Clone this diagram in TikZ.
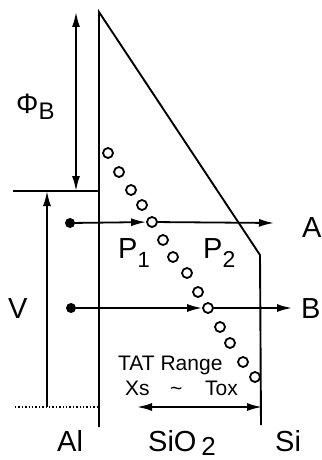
\documentclass[tikz,border=0pt]{standalone}
\usepackage{fontspec}
\setmainfont{Liberation Sans}
\usetikzlibrary{arrows.meta}
\begin{document}
\begin{tikzpicture}[x=1pt,y=-1pt,
  ln/.style={line width=1.9pt},
  arr/.style={line width=1.8pt,-{Latex[length=15pt,width=8pt]}},
  darr/.style={line width=1.8pt,{Latex[length=15pt,width=8pt]}-{Latex[length=15pt,width=8pt]}},
  trap/.style={circle,draw,line width=1.8pt,fill=white,minimum size=10pt,inner sep=0pt},
  dotn/.style={circle,fill=black,minimum size=10pt,inner sep=0pt},
  big/.style={inner sep=0pt,anchor=base west,font=\fontsize{29}{29}\selectfont},
  small/.style={inner sep=0pt,anchor=base west,font=\fontsize{21}{21}\selectfont}]
\useasboundingbox (0,0) rectangle (321,460);
% band structure
\coordinate (altop) at (99,12);
\coordinate (albot) at (99,427);
\coordinate (kink) at (260,255);
\coordinate (sibot) at (261,425);
\draw[ln] (albot) -- (altop) -- (kink) -- (sibot);
% Fermi level
\coordinate (fl) at (13,191);
\coordinate (fr) at (99,191);
\draw[ln] (fl) -- (fr);
% dotted level
\coordinate (dl) at (15,407);
\coordinate (dr) at (97,407);
\draw[line width=1.4pt,dotted] (dl) -- (dr);
% Phi_B arrow
\coordinate (pbt) at (76,12);
\coordinate (pbb) at (76,191);
\draw[darr] (pbb) -- (pbt);
% V arrow
\coordinate (vb) at (47,407);
\coordinate (vt) at (47,191);
\draw[arr] (vb) -- (vt);
% traps
\foreach \i/\x/\y in {1/108/153,2/119/172,3/131/190,4/142/205,5/152/222,6/163/240,7/173/257,8/187/273,9/198/292,10/208/308,11/220/327,12/230/343,13/243/362,14/255/377}
  \node[trap] (t\i) at (\x,\y) {};
% arrow A
\node[dotn] (da) at (70,223) {};
\coordinate (ea) at (274,223);
\draw[arr] (da) -- (t5);
\draw[arr] (t5) -- (ea);
% arrow B
\node[dotn] (db) at (71,308) {};
\coordinate (eb) at (292,308);
\draw[arr] (db) -- (t10);
\draw[arr] (t10) -- (eb);
% TAT range arrow
\coordinate (tl) at (137,407);
\coordinate (tr) at (262,407);
\draw[darr] (tl) -- (tr);
% labels
\node[inner sep=0pt,anchor=base west,font=\fontsize{28}{28}\selectfont] (phib) at (16,113) {Φ\raisebox{-6pt}{\fontsize{24}{24}\selectfont B}};
\node[big] (p1) at (118,258) {P\raisebox{-9pt}{\fontsize{22}{22}\selectfont 1}};
\node[big] (p2) at (203,258) {P\raisebox{-9pt}{\fontsize{23}{23}\selectfont 2}};
\node[big] (lv) at (8,318) {V};
\node[big] (la) at (302,237) {A};
\node[big] (lb) at (301,318) {B};
\node[big] (lal) at (57,451) {Al};
\node[big] (lsio) at (148,451) {SiO\,\raisebox{-4pt}{\fontsize{26}{26}\selectfont 2}};
\node[big] (lsi) at (275,451) {Si};
\node[small] (tat) at (118,370) {TAT Range};
\node[small] (xs) at (125,395) {Xs};
\node[small] (tld) at (170,395) {\textasciitilde};
\node[small] (tox) at (205,395) {Tox};
\end{tikzpicture}
\end{document}
